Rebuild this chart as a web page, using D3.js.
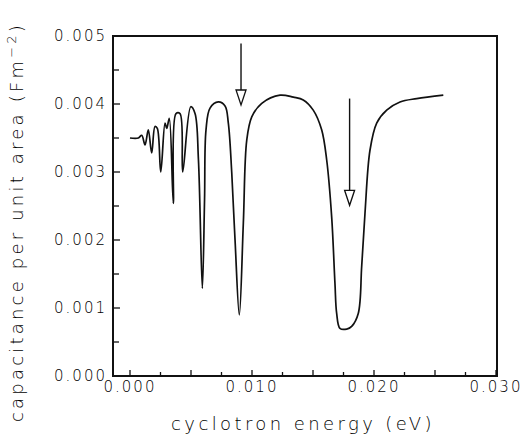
<!DOCTYPE html>
<html>
<head>
<meta charset="utf-8">
<script src="https://cdn.jsdelivr.net/npm/d3@7"></script>
<style>
  body { margin: 0; background: #fff; }
  svg { display: block; }
  text { font-family: "DejaVu Sans", sans-serif; font-weight: 300; fill: #000; }
</style>
</head>
<body>
<svg></svg>
<script>
// Data (energy in eV, capacitance in F m^-2)
const energy = [0.0000, 0.00068, 0.00096, 0.00123, 0.00150, 0.00178, 0.00205, 0.00224, 0.00252,
  0.00287, 0.00301, 0.00322, 0.00355, 0.00377, 0.00410, 0.00432, 0.00498, 0.00533, 0.00561,
  0.00593, 0.00611, 0.00623, 0.00656, 0.00724, 0.00779, 0.00806, 0.00834, 0.00861, 0.00896,
  0.00929, 0.00957, 0.00998, 0.01080, 0.01230, 0.01339, 0.01420, 0.01502, 0.01571, 0.01612,
  0.01653, 0.01680, 0.01694, 0.01721, 0.01776, 0.01817, 0.01871, 0.01899, 0.01926, 0.01967,
  0.02022, 0.02104, 0.02213, 0.02350, 0.02568];
const capacitance = [0.00350, 0.00350, 0.00354, 0.00340, 0.00362, 0.00328, 0.00367, 0.00364, 0.00300,
  0.00372, 0.00364, 0.00379, 0.00254, 0.00386, 0.00386, 0.00300, 0.00396, 0.00386, 0.00318,
  0.00129, 0.00259, 0.00362, 0.00394, 0.00403, 0.00397, 0.00372, 0.00299, 0.00200, 0.00090,
  0.00225, 0.00347, 0.00381, 0.00401, 0.00413, 0.00410, 0.00406, 0.00391, 0.00362, 0.00318,
  0.00234, 0.00136, 0.00092, 0.00070, 0.00069, 0.00073, 0.00092, 0.00161, 0.00239, 0.00332,
  0.00372, 0.00391, 0.00403, 0.00408, 0.00413];

// Arrows: x position, top of shaft, tip of head
const arrowX = [0.0091, 0.0180];
const arrowTop = [0.00489, 0.00408];
const arrowTip = [0.003985, 0.00251];

const xMajor = [0, 0.010, 0.020, 0.030];
const xTicks = d3.range(0, 0.03001, 0.0025);
const yMajor = [0, 0.001, 0.002, 0.003, 0.004, 0.005];
const yTicks = d3.range(0, 0.00501, 0.0005);

const W = 524, H = 447;
const svg = d3.select("svg").attr("width", W).attr("height", H);

const frame = {left: 113, right: 497, top: 36, bottom: 376};

const x = d3.scaleLinear().domain([0, 0.030]).range([130, 496]);
const y = d3.scaleLinear().domain([0, 0.005]).range([frame.bottom, frame.top]);

// bottom ticks (inward)
svg.append("g").selectAll("line")
  .data(xTicks)
  .join("line")
  .attr("x1", d => x(d)).attr("x2", d => x(d))
  .attr("y1", frame.bottom)
  .attr("y2", (d, i) => frame.bottom - (i % 2 === 0 ? 6 : 4))
  .attr("stroke", "#111").attr("stroke-width", 1.3);

// left ticks (inward)
svg.append("g").selectAll("line")
  .data(yTicks)
  .join("line")
  .attr("x1", frame.left)
  .attr("x2", (d, i) => frame.left + (i % 2 === 0 ? 7 : 6))
  .attr("y1", d => y(d)).attr("y2", d => y(d))
  .attr("stroke", "#111").attr("stroke-width", 1.3);

// tick labels
svg.append("g").selectAll("text")
  .data(xMajor)
  .join("text")
  .attr("x", d => x(d))
  .attr("y", 392)
  .attr("text-anchor", "middle")
  .style("font-size", "15px")
  .style("letter-spacing", "2px")
  .text(d => d3.format(".3f")(d));

svg.append("g").selectAll("text")
  .data(yMajor)
  .join("text")
  .attr("x", 107)
  .attr("y", d => y(d) + 5)
  .attr("text-anchor", "end")
  .style("font-size", "15px")
  .style("letter-spacing", "2px")
  .text(d => d3.format(".3f")(d));

// frame
svg.append("rect")
  .attr("x", frame.left).attr("y", frame.top)
  .attr("width", frame.right - frame.left)
  .attr("height", frame.bottom - frame.top)
  .attr("fill", "none")
  .attr("stroke", "#111")
  .attr("stroke-width", 2);

// curve
const pts = energy.map((e, i) => [e, capacitance[i]]);
svg.append("path")
  .datum(pts)
  .attr("fill", "none")
  .attr("stroke", "#111")
  .attr("stroke-width", 1.7)
  .attr("stroke-linejoin", "round")
  .attr("d", d3.line()
    .x(d => x(d[0]))
    .y(d => y(d[1]))
    .curve(d3.curveCatmullRom.alpha(0.5)));

// arrows
arrowX.forEach((ax, i) => {
  const px = x(ax), tip = y(arrowTip[i]);
  svg.append("line")
    .attr("x1", px).attr("x2", px)
    .attr("y1", y(arrowTop[i])).attr("y2", tip - 15)
    .attr("stroke", "#111").attr("stroke-width", 1.4);
  svg.append("path")
    .attr("d", `M${px - 5},${tip - 15}L${px + 5},${tip - 15}L${px},${tip}Z`)
    .attr("fill", "#fff")
    .attr("stroke", "#111")
    .attr("stroke-width", 1.3);
});

// axis titles
svg.append("text")
  .attr("x", 303)
  .attr("y", 430)
  .attr("text-anchor", "middle")
  .style("font-size", "18px")
  .style("letter-spacing", "3.4px")
  .text("cyclotron energy (eV)");

const yt = svg.append("text")
  .attr("transform", "translate(23,222) rotate(-90)")
  .attr("text-anchor", "middle")
  .style("font-size", "18px")
  .style("letter-spacing", "3.2px");
yt.append("tspan").text("capacitance per unit area (Fm");
yt.append("tspan").attr("dy", -7).style("font-size", "13px").text("−2");
yt.append("tspan").attr("dy", 7).text(")");
</script>
</body>
</html>
